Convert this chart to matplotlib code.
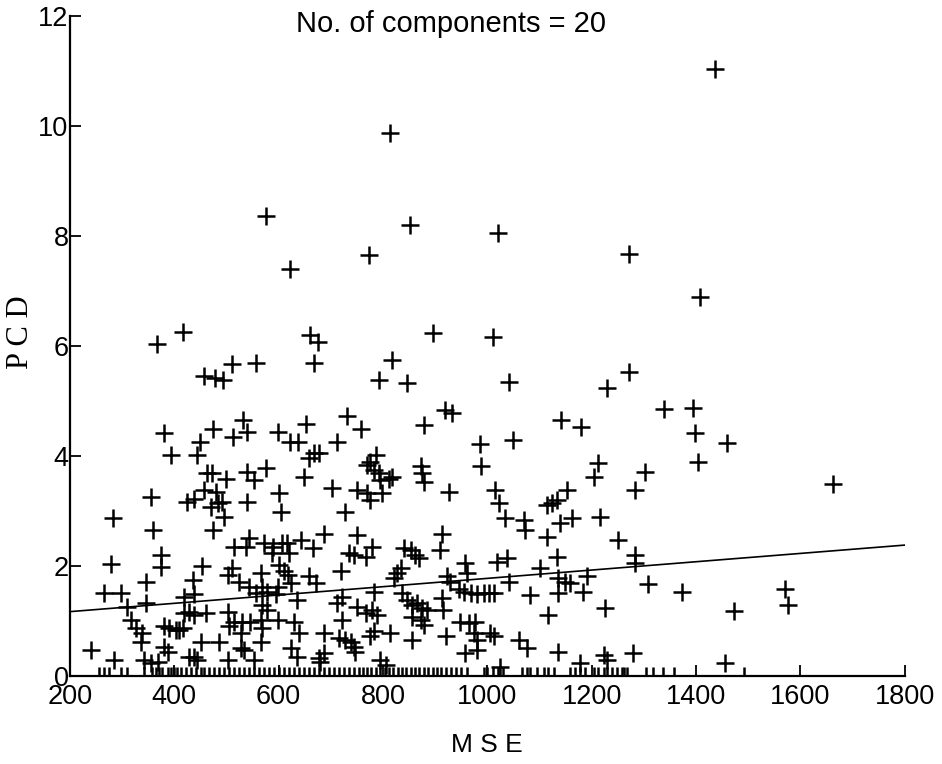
import numpy as np
import matplotlib
matplotlib.use("Agg")
import matplotlib.pyplot as plt

# MSE / PCD pairs (points with PCD > 0)
mse = [
    1437, 813, 575, 852, 1020, 621, 773, 1271, 1407, 366, 417, 660, 676, 668, 896, 1010,
    457, 478, 493, 510, 556, 817, 793, 847, 1041, 1229, 1271, 380, 474, 449, 531, 512,
    539, 598, 622, 638, 653, 712, 732, 758, 878, 919, 932, 986, 1050, 1141, 1180, 1338,
    1394, 1399, 1459,
    393, 444, 668, 677, 658, 463, 473, 499, 540, 553, 575, 648, 703, 750,
    355, 425, 438, 457, 479, 483, 492, 470, 495, 540, 600, 604, 728, 282, 475, 360, 687, 751,
    514, 543, 537, 571, 590, 607, 616, 642, 665, 620, 588, 374, 735, 744,
    278, 374, 454, 511, 502, 566, 600, 610, 617, 658, 719, 345, 435, 524, 543, 569, 598,
    623, 671, 266, 298, 419, 438, 556, 578, 594, 636, 722, 345, 310, 569, 712, 751, 419,
    428, 438, 460, 502, 578, 317, 514, 530, 546, 566, 598, 629, 722, 326, 381, 390, 403,
    409, 416, 505, 569, 339, 527, 639, 687, 715, 728, 738, 336, 451, 486, 566, 381, 387,
    527, 533, 623, 744, 747, 240, 285, 342, 368, 428, 438, 444, 502, 553, 636, 677, 680,
    687, 355,
    987, 786, 776, 770, 782, 792, 795, 818, 811, 770, 776, 798, 872, 875, 878, 926, 1015,
    1022, 1034, 1070, 1073, 1114, 1124, 1133, 1153, 1140, 1162, 1114, 1213, 1204, 1216,
    1251, 1283, 779, 767, 913, 910, 840, 853, 862, 869, 834, 827, 821, 958, 961, 1018,
    1038, 1041, 1101, 1133, 1136, 1149, 1159, 1191, 1136, 1184, 1283, 1283, 1082, 923,
    929, 945, 955, 968, 980, 993, 1003, 1012, 913, 916, 782, 767, 779, 789, 837, 846, 856,
    865, 875, 885, 856, 872, 878, 948, 964, 977, 1117, 1226, 782, 814, 776, 856, 920, 974,
    980, 1006, 1012, 958, 980, 1060, 1076, 1136, 795, 805, 1025, 1178, 1223, 1229, 1280,
    1404, 1302, 1663, 1309, 1373, 1472, 1570, 1577, 1456,
]
pcd = [
    11.03, 9.87, 8.37, 8.20, 8.05, 7.40, 7.65, 7.68, 6.90, 6.04, 6.25, 6.20, 6.07, 5.69, 6.24, 6.16,
    5.45, 5.41, 5.38, 5.67, 5.70, 5.75, 5.39, 5.32, 5.35, 5.23, 5.52, 4.41, 4.49, 4.26, 4.66, 4.34,
    4.44, 4.44, 4.26, 4.26, 4.58, 4.26, 4.72, 4.49, 4.57, 4.84, 4.79, 4.22, 4.30, 4.66, 4.53, 4.85,
    4.88, 4.42, 4.24,
    4.02, 4.02, 4.05, 4.05, 3.96, 3.69, 3.69, 3.59, 3.71, 3.56, 3.78, 3.62, 3.41, 3.38,
    3.25, 3.17, 3.21, 3.38, 3.35, 3.14, 3.17, 3.08, 2.90, 3.17, 3.32, 2.99, 2.99, 2.87, 2.65, 2.65, 2.59, 2.56,
    2.35, 2.50, 2.35, 2.41, 2.35, 2.41, 2.41, 2.47, 2.32, 2.23, 2.23, 2.20, 2.23, 2.20,
    2.04, 1.99, 2.00, 1.96, 1.84, 1.88, 2.02, 1.90, 1.84, 1.81, 1.90, 1.71, 1.75, 1.71, 1.62, 1.62, 1.62,
    1.69, 1.69, 1.50, 1.50, 1.44, 1.49, 1.50, 1.53, 1.49, 1.38, 1.44, 1.32, 1.26, 1.29, 1.32, 1.26, 1.14,
    1.17, 1.11, 1.14, 1.17, 1.20, 1.02, 0.99, 0.99, 0.99, 1.02, 1.02, 0.99, 1.02, 0.87, 0.90, 0.87, 0.84,
    0.84, 0.87, 0.90, 0.87, 0.78, 0.78, 0.78, 0.78, 0.69, 0.65, 0.62, 0.62, 0.62, 0.62, 0.62, 0.53, 0.44,
    0.50, 0.47, 0.50, 0.53, 0.44, 0.47, 0.29, 0.29, 0.26, 0.35, 0.35, 0.29, 0.29, 0.29, 0.35, 0.32, 0.26,
    0.41, 0.23,
    3.82, 4.02, 3.90, 3.84, 3.75, 3.69, 3.56, 3.61, 3.59, 3.32, 3.20, 3.32, 3.81, 3.69, 3.53, 3.35, 3.38,
    3.14, 2.87, 2.84, 2.65, 3.11, 3.14, 3.20, 3.38, 2.78, 2.87, 2.53, 3.87, 3.62, 2.90,
    2.47, 3.38, 2.35, 2.17, 2.59, 2.29, 2.32, 2.29, 2.20, 2.14, 1.96, 1.87, 1.78, 2.05, 1.87, 2.08,
    2.14, 1.71, 1.96, 2.17, 1.78, 1.71, 1.69, 1.81, 1.50, 1.53, 2.20, 2.05, 1.47, 1.81,
    1.71, 1.59, 1.53, 1.50, 1.49, 1.50, 1.50, 1.50, 1.41, 1.20, 1.53, 1.14, 1.20, 1.11, 1.50, 1.38, 1.29,
    1.32, 1.23, 1.20, 1.08, 1.02, 0.93, 0.99, 0.96, 0.99, 1.11, 1.23, 0.81, 0.78, 0.72, 0.65, 0.72, 0.78,
    0.65, 0.78, 0.72, 0.41, 0.47, 0.65, 0.50, 0.44, 0.29, 0.20, 0.17, 0.23, 0.38, 0.29, 0.41,
    3.90, 3.71, 3.50, 1.67, 1.53, 1.19, 1.59, 1.29, 0.24,
]

# samples with PCD = 0 (only their MSE can be read)
mse_zero = [
    256, 266, 275, 298, 310, 342, 358, 365, 371, 377, 387, 393, 400, 406, 412, 422, 432,
    441, 451, 457, 467, 476, 486, 495, 505, 514, 524, 534, 543, 553, 562, 572, 581, 591,
    601, 610, 620, 629, 639, 648, 658, 668, 677, 687, 696, 706, 716, 725, 735, 744, 754,
    762, 770, 778, 786, 795, 803, 812, 820, 828, 836, 845, 853, 862, 870, 878, 886, 895,
    903, 912, 920, 930, 940, 950, 961, 993, 1000, 1010, 1020, 1031, 1066, 1076, 1082,
    1095, 1108, 1117, 1127, 1159, 1168, 1178, 1188, 1204, 1213, 1223, 1229, 1239, 1248,
    1258, 1262, 1267, 1304, 1318, 1337, 1358, 1492,
]

# least squares line as drawn in the figure (slope, intercept)
fit_coef = [0.000756, 1.019]

x_ticks = [200, 400, 600, 800, 1000, 1200, 1400, 1600, 1800]
y_ticks = [0, 2, 4, 6, 8, 10, 12]

sans = "Liberation Sans"
serif = "Liberation Serif"

fig = plt.figure(figsize=(9.42, 7.64), dpi=100)
ax = fig.add_axes([0.0743, 0.1152, 0.886, 0.8638])

all_x = np.array(mse + mse_zero, dtype=float)
all_y = np.array(pcd + [0.0] * len(mse_zero))
ax.plot(all_x, all_y, linestyle="none", marker="+", markersize=13,
        markeredgewidth=1.8, color="black")

xl = np.array([x_ticks[0], x_ticks[-1]], dtype=float)
ax.plot(xl, np.polyval(fit_coef, xl), color="black", linewidth=1.2)

ax.set_xlim(x_ticks[0], x_ticks[-1])
ax.set_ylim(y_ticks[0], y_ticks[-1])
ax.set_xticks(x_ticks)
ax.set_yticks(y_ticks)

for s in ["top", "right"]:
    ax.spines[s].set_visible(False)
for s in ["left", "bottom"]:
    ax.spines[s].set_linewidth(1.6)

ax.tick_params(direction="in", length=8, width=1.3, labelsize=19.5)
ax.tick_params(axis="x", pad=6)
ax.tick_params(axis="y", pad=1)
for lab in ax.get_xticklabels() + ax.get_yticklabels():
    lab.set_fontfamily(sans)

ax.set_xlabel("M S E", fontsize=19, fontfamily=sans, labelpad=16)

# axis labels / title placed where the original has them
fig.text(20 / 942, 1 - 332 / 764, "P C D", fontsize=22, fontfamily=serif,
         rotation=90, ha="center", va="center")
fig.text(451 / 942, 1 - 24 / 764, "No. of components = 20", fontsize=21,
         fontfamily=sans, ha="center", va="center")

fig.savefig("out.png", dpi=100)
